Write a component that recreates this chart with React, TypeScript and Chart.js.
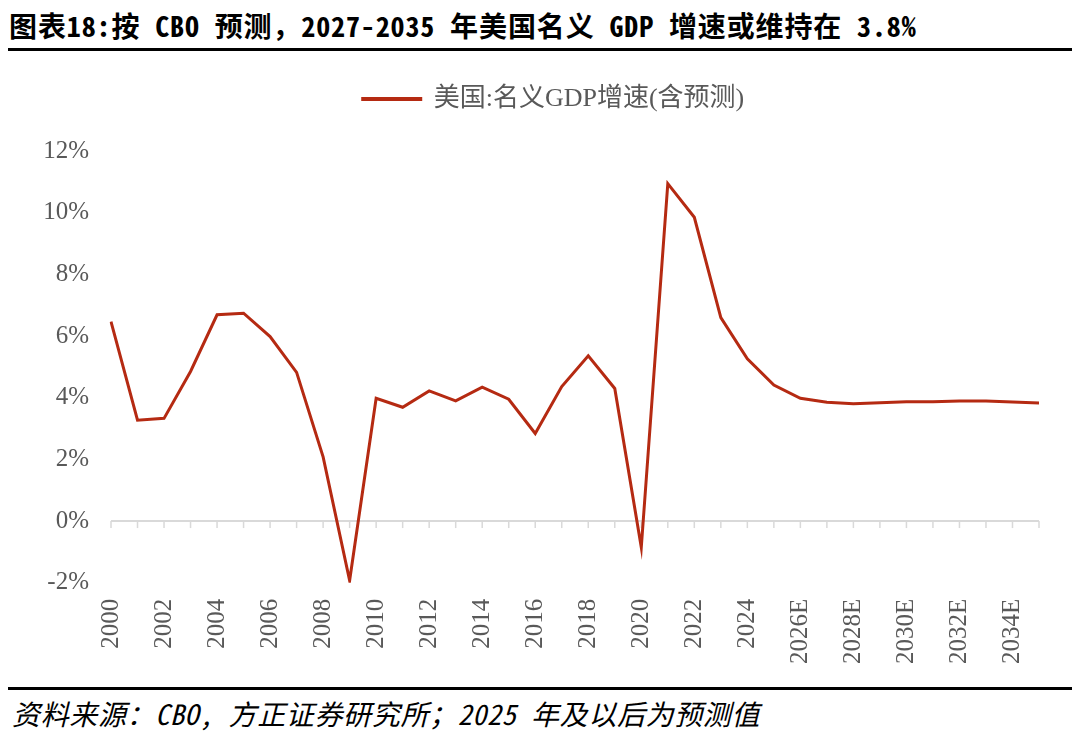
import React, { useRef, useEffect } from 'react';
import { Chart, registerables } from 'chart.js';

Chart.register(...registerables);

// 年份（2025 年及以后为 CBO 预测值）
const categories = [
  '2000', '2001', '2002', '2003', '2004', '2005', '2006', '2007', '2008', '2009',
  '2010', '2011', '2012', '2013', '2014', '2015', '2016', '2017', '2018', '2019',
  '2020', '2021', '2022', '2023', '2024', '2025E', '2026E', '2027E', '2028E', '2029E',
  '2030E', '2031E', '2032E', '2033E', '2034E', '2035E',
];

// 美国:名义GDP增速(含预测), %
const nominalGdpGrowth = [
  6.47, 3.27, 3.33, 4.85, 6.69, 6.74, 5.98, 4.82, 2.08, -1.93,
  3.98, 3.69, 4.22, 3.90, 4.34, 3.95, 2.84, 4.36, 5.36, 4.30,
  -0.85, 10.94, 9.85, 6.60, 5.26, 4.41, 3.98, 3.85, 3.80, 3.84,
  3.87, 3.87, 3.89, 3.89, 3.86, 3.83,
];

const yMin = -2;
const yMax = 12;
const yStep = 2;

const seriesName = '美国:名义GDP增速(含预测)';
const titleText = '图表18:按 CBO 预测，2027-2035 年美国名义 GDP 增速或维持在 3.8%';
const sourceText = '资料来源：CBO, 方正证券研究所；2025 年及以后为预测值';

const RED = '#B52A12';
const GREY_TEXT = '#595959';
const SERIF = '"Liberation Serif", "Noto Sans CJK SC", serif';
const MONO_CJK = '"Noto Sans Mono CJK SC", "Noto Sans CJK SC", monospace';

// zero line with small tick marks hanging under it
const zeroAxis = {
  id: 'zeroAxis',
  beforeDatasetsDraw(chart: any) {
    const { ctx, chartArea, scales } = chart;
    const x = scales.x;
    const y0 = scales.y.getPixelForValue(0);
    ctx.save();
    ctx.strokeStyle = '#d9d9d9';
    ctx.lineWidth = 2;
    ctx.beginPath();
    ctx.moveTo(chartArea.left, y0);
    ctx.lineTo(chartArea.right, y0);
    ctx.stroke();
    ctx.lineWidth = 1.5;
    for (let i = 0; i < categories.length; i++) {
      const px = x.getPixelForValue(i);
      ctx.beginPath();
      ctx.moveTo(px, y0);
      ctx.lineTo(px, y0 + 7);
      ctx.stroke();
    }
    ctx.restore();
  },
};

// more room between legend and plot, legend nudged right
const legendGap = {
  id: 'legendGap',
  beforeInit(chart: any) {
    const fit = chart.legend.fit;
    chart.legend.fit = function () {
      fit.bind(chart.legend)();
      this.height += 29;
    };
  },
  afterLayout(chart: any) {
    chart.legend.left += 68;
  },
};

const GdpChart: React.FC = () => {
  const chartRef = useRef<HTMLCanvasElement | null>(null);
  const chartInstance = useRef<Chart | null>(null);

  useEffect(() => {
    if (chartInstance.current) {
      chartInstance.current.destroy();
    }
    const ctx = chartRef.current?.getContext('2d');
    if (ctx) {
      chartInstance.current = new Chart(ctx, {
        type: 'line',
        data: {
          labels: categories,
          datasets: [
            {
              label: seriesName,
              data: nominalGdpGrowth,
              borderColor: RED,
              backgroundColor: RED,
              borderWidth: 3,
              pointRadius: 0,
              tension: 0,
            },
          ],
        },
        plugins: [zeroAxis, legendGap],
        options: {
          responsive: false,
          animation: false,
          layout: { padding: { top: 16, left: 0, right: 41, bottom: 0 } },
          plugins: {
            tooltip: { enabled: false },
            legend: {
              position: 'top',
              labels: {
                boxWidth: 58,
                boxHeight: 1,
                color: GREY_TEXT,
                font: { family: SERIF, size: 26 },
                padding: 10,
              },
            },
          },
          scales: {
            x: {
              offset: false,
              grid: { display: false, drawTicks: false },
              border: { display: false },
              ticks: {
                autoSkip: false,
                maxRotation: 90,
                minRotation: 90,
                padding: 16,
                color: GREY_TEXT,
                font: { family: SERIF, size: 25 },
                callback: (_v: any, i: number) => (i % 2 === 0 ? categories[i] : ''),
              },
              afterFit: (scale: any) => {
                scale.paddingLeft = 0;
                scale.paddingRight = 0;
              },
            },
            y: {
              min: yMin,
              max: yMax,
              grid: { display: false, drawTicks: false },
              border: { display: false },
              ticks: {
                stepSize: yStep,
                padding: 22,
                color: GREY_TEXT,
                font: { family: SERIF, size: 25 },
                callback: (v: any) => `${v}%`,
              },
              afterFit: (scale: any) => {
                scale.width = 111;
              },
            },
          },
        },
      });
    }
    return () => {
      if (chartInstance.current) {
        chartInstance.current.destroy();
        chartInstance.current = null;
      }
    };
  }, []);

  return <canvas ref={chartRef} width={1080} height={620} style={{ width: 1080, height: 620, display: 'block' }} />;
};

export default function App() {
  return (
    <div style={{ position: 'absolute', left: 0, top: 0, width: 1080, height: 733, background: '#fff', overflow: 'hidden' }}>
      <div
        style={{
          position: 'absolute',
          left: 9,
          top: 4,
          fontFamily: MONO_CJK,
          fontWeight: 700,
          fontSize: 28,
          letterSpacing: 0.88,
          lineHeight: '42px',
          color: '#000',
          whiteSpace: 'nowrap',
        }}
      >
        {titleText}
      </div>
      <div style={{ position: 'absolute', left: 8, top: 48, width: 1064, height: 3, background: '#000' }} />
      <div style={{ position: 'absolute', left: 0, top: 60 }}>
        <GdpChart />
      </div>
      <div style={{ position: 'absolute', left: 8, top: 687, width: 1064, height: 3, background: '#000' }} />
      <div
        style={{
          position: 'absolute',
          left: 12,
          top: 692,
          fontFamily: MONO_CJK,
          fontStyle: 'italic',
          fontSize: 28,
          letterSpacing: 0.65,
          lineHeight: '42px',
          color: '#000',
          whiteSpace: 'nowrap',
        }}
      >
        {sourceText}
      </div>
    </div>
  );
}
